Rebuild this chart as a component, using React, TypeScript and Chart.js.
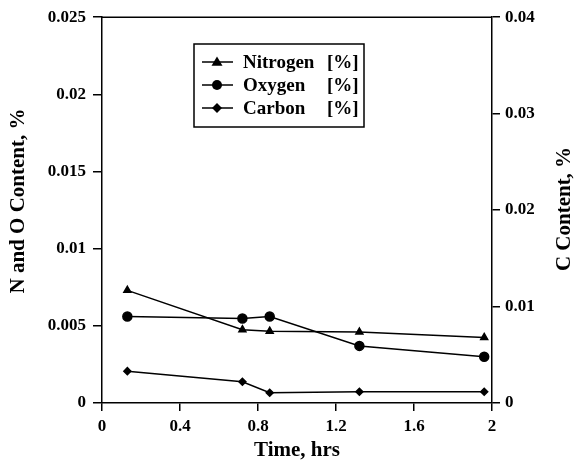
import React, { useEffect, useRef } from "react";
import { Chart, registerables } from "chart.js";

Chart.register(...registerables);

const timeHrs = [0.13, 0.72, 0.86, 1.32, 1.96];
const nitrogen = [0.0073, 0.00475, 0.00465, 0.0046, 0.00425];
const oxygen = [0.0056, 0.00547, 0.0056, 0.0037, 0.003];
const carbon = [0.0033, 0.0022, 0.00106, 0.00116, 0.00116];
const seriesLabels = ["Nitrogen [%]", "Oxygen [%]", "Carbon [%]"];
const xTicks = [0, 0.4, 0.8, 1.2, 1.6, 2];
const leftTicks = [0, 0.005, 0.01, 0.015, 0.02, 0.025];
const rightTicks = [0, 0.01, 0.02, 0.03, 0.04];
const xTitle = "Time, hrs";
const leftTitle = "N and O Content, %";
const rightTitle = "C Content, %";

const FONT = "'Liberation Serif', 'Times New Roman', serif";

const frameAndLegend = {
  id: "frameAndLegend",
  afterDraw(chart: any) {
    const ctx = chart.ctx;
    const ca = chart.chartArea;
    ctx.save();
    // top frame line
    ctx.strokeStyle = "#000";
    ctx.lineWidth = 1.5;
    ctx.beginPath();
    ctx.moveTo(ca.left, ca.top);
    ctx.lineTo(ca.right, ca.top);
    ctx.stroke();

    // vertical axis titles, both reading bottom-to-top
    ctx.fillStyle = "#000";
    ctx.font = `bold 21px ${FONT}`;
    ctx.textAlign = "center";
    ctx.textBaseline = "middle";
    ctx.save();
    ctx.translate(19, 201);
    ctx.rotate(-Math.PI / 2);
    ctx.fillText(leftTitle, 0, 0);
    ctx.restore();
    ctx.save();
    ctx.translate(565, 209);
    ctx.rotate(-Math.PI / 2);
    ctx.fillText(rightTitle, 0, 0);
    ctx.restore();

    // legend box
    const bx = 194, by = 44, bw = 170, bh = 83;
    ctx.lineWidth = 1.5;
    ctx.strokeRect(bx, by, bw, bh);
    ctx.font = `bold 19px ${FONT}`;
    ctx.textBaseline = "middle";
    ctx.textAlign = "left";
    chart.data.datasets.forEach((ds: any, i: number) => {
      const y = 62 + i * 23;
      ctx.beginPath();
      ctx.lineWidth = 1.5;
      ctx.moveTo(202, y);
      ctx.lineTo(233, y);
      ctx.stroke();
      const mx = 217;
      ctx.beginPath();
      if (ds.pointStyle === "triangle") {
        const r = 5.5;
        ctx.moveTo(mx, y - r);
        ctx.lineTo(mx + r, y + r * 0.7);
        ctx.lineTo(mx - r, y + r * 0.7);
        ctx.closePath();
      } else if (ds.pointStyle === "circle") {
        ctx.arc(mx, y, 5, 0, Math.PI * 2);
      } else {
        const r = 5;
        ctx.moveTo(mx, y - r);
        ctx.lineTo(mx + r, y);
        ctx.lineTo(mx, y + r);
        ctx.lineTo(mx - r, y);
        ctx.closePath();
      }
      ctx.fill();
      const label: string = ds.label;
      const idx = label.indexOf("[");
      const name = label.slice(0, idx).trim();
      const unit = label.slice(idx);
      ctx.fillText(name, 243, y + 1);
      ctx.fillText(unit, 327, y + 1);
    });
    ctx.restore();
  },
};

export default function App() {
  const ref = useRef<HTMLCanvasElement | null>(null);
  useEffect(() => {
    document.body.style.margin = "0";
    const canvas = ref.current!;
    const toPts = (ys: number[]) => timeHrs.map((x, i) => ({ x, y: ys[i] }));
    const tickFont = { family: FONT, size: 17, weight: "bold" as const };
    const titleFont = { family: FONT, size: 21, weight: "bold" as const };
    const chart = new Chart(canvas, {
      type: "line",
      data: {
        datasets: [
          {
            label: seriesLabels[0],
            data: toPts(nitrogen),
            yAxisID: "y",
            borderColor: "#000",
            backgroundColor: "#000",
            borderWidth: 1.5,
            pointStyle: "triangle",
            pointRadius: 4,
          },
          {
            label: seriesLabels[1],
            data: toPts(oxygen),
            yAxisID: "y",
            borderColor: "#000",
            backgroundColor: "#000",
            borderWidth: 1.5,
            pointStyle: "circle",
            pointRadius: 4.5,
          },
          {
            label: seriesLabels[2],
            data: toPts(carbon),
            yAxisID: "y2",
            borderColor: "#000",
            backgroundColor: "#000",
            borderWidth: 1.5,
            pointStyle: "rectRot",
            pointRadius: 3.5,
          },
        ],
      },
      options: {
        animation: false,
        responsive: false,
        devicePixelRatio: 1,
        layout: { padding: { top: 15, left: 0, right: 0, bottom: 0 } },
        plugins: { legend: { display: false }, tooltip: { enabled: false } },
        elements: { line: { tension: 0 } },
        scales: {
          x: {
            type: "linear",
            position: "bottom",
            min: 0,
            max: 2,
            afterBuildTicks: (s: any) => {
              s.ticks = xTicks.map((v) => ({ value: v }));
            },
            afterFit: (s: any) => {
              s.height = 62;
            },
            ticks: {
              color: "#000",
              font: tickFont,
              padding: 5,
              maxRotation: 0,
              autoSkip: false,
              callback: (v: any) => String(v),
            },
            grid: { drawOnChartArea: false, tickLength: 8, color: "#000", lineWidth: 1.5 },
            border: { color: "#000", width: 1.5 },
            title: { display: true, text: xTitle, color: "#000", font: titleFont, padding: { top: 0, bottom: 2 } },
          },
          y: {
            type: "linear",
            position: "left",
            min: 0,
            max: 0.025,
            afterBuildTicks: (s: any) => {
              s.ticks = leftTicks.map((v) => ({ value: v }));
            },
            afterFit: (s: any) => {
              s.width = 102;
            },
            ticks: { color: "#000", font: tickFont, padding: 7, callback: (v: any) => String(v) },
            grid: { drawOnChartArea: false, tickLength: 9, color: "#000", lineWidth: 1.5 },
            border: { color: "#000", width: 1.5 },
            title: { display: false },
          },
          y2: {
            type: "linear",
            position: "right",
            min: 0,
            max: 0.04,
            afterBuildTicks: (s: any) => {
              s.ticks = rightTicks.map((v) => ({ value: v }));
            },
            afterFit: (s: any) => {
              s.width = 84;
            },
            ticks: { color: "#000", font: tickFont, padding: 5, callback: (v: any) => String(v) },
            grid: { drawOnChartArea: false, tickLength: 8, color: "#000", lineWidth: 1.5 },
            border: { color: "#000", width: 1.5 },
            title: { display: false },
          },
        },
      },
      plugins: [frameAndLegend],
    } as any);
    return () => chart.destroy();
  }, []);
  return <canvas ref={ref} width={576} height={465} style={{ display: "block" }} />;
}
